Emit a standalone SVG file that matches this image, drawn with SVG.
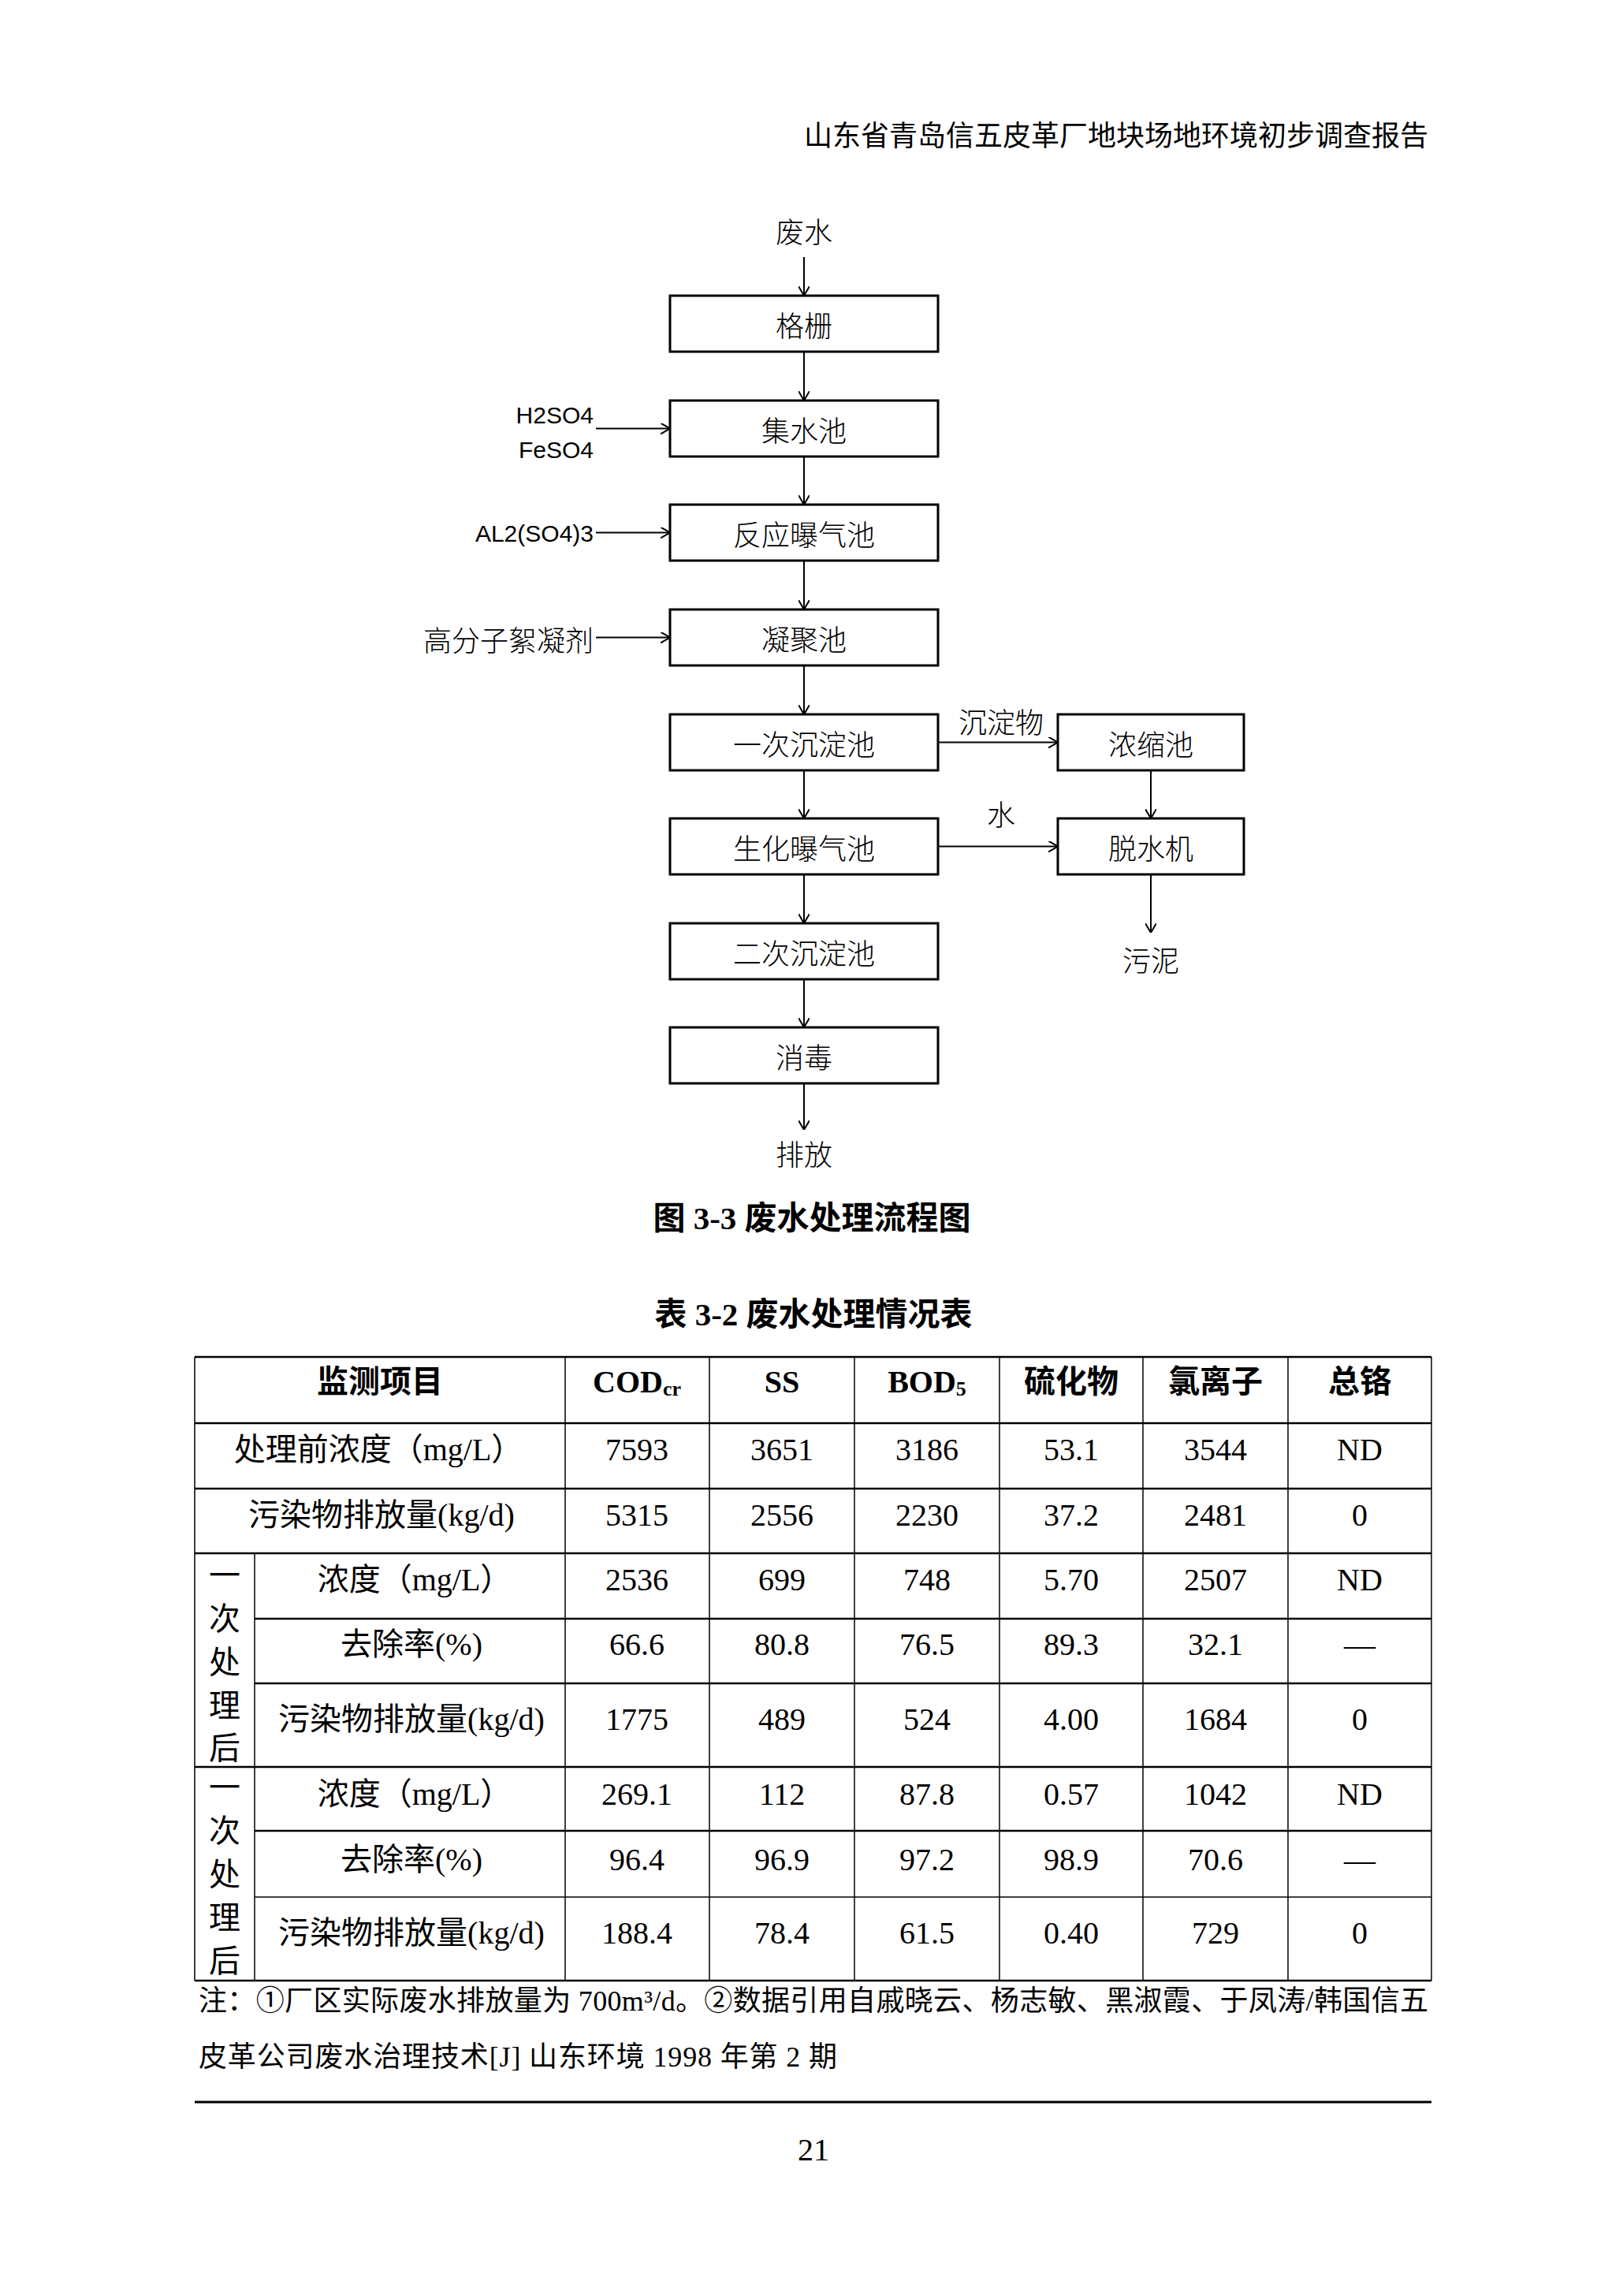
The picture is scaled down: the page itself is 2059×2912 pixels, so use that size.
<svg xmlns="http://www.w3.org/2000/svg" width="2059" height="2912" viewBox="0 0 2059 2912">
<defs>
<marker id="arr" viewBox="0 0 12 14" refX="12" refY="7" markerWidth="12" markerHeight="14" markerUnits="userSpaceOnUse" orient="auto">
<path d="M0,0 L12,7 L0,14" fill="none" stroke="#000" stroke-width="2"/>
</marker>
<style>
.box{fill:#fff;stroke:#000;stroke-width:3}
.con{stroke:#000;stroke-width:2;fill:none;marker-end:url(#arr)}
.fl{font-family:"Noto Sans CJK SC","Liberation Sans",sans-serif;font-size:36px;font-weight:300;text-anchor:middle;dominant-baseline:central;fill:#000}
.la{font-family:"Liberation Sans","Noto Sans CJK SC",sans-serif;font-size:30px;text-anchor:end;dominant-baseline:central;fill:#000}
.lc{font-family:"Noto Sans CJK SC",sans-serif;font-size:36px;font-weight:300;text-anchor:end;dominant-baseline:central;fill:#000}
.hd{font-family:"Liberation Serif","Noto Sans CJK SC",serif;font-size:36px;text-anchor:end;dominant-baseline:central;fill:#000}
.cap{font-family:"Liberation Serif","Noto Sans CJK SC",serif;font-size:41px;font-weight:bold;text-anchor:middle;dominant-baseline:central;fill:#000}
.t{font-family:"Liberation Serif","Noto Sans CJK SC",serif;font-size:40px;text-anchor:middle;dominant-baseline:central;fill:#000}
.th{font-family:"Liberation Serif","Noto Sans CJK SC",serif;font-size:40px;font-weight:bold;text-anchor:middle;dominant-baseline:central;fill:#000}
.nt{font-family:"Liberation Serif","Noto Sans CJK SC",serif;font-size:36px;dominant-baseline:central;fill:#000}
.tk{stroke:#000;stroke-width:2.5}
.tn{stroke:#000;stroke-width:1.5}
</style>
</defs>
<rect width="2059" height="2912" fill="#fff"/>

<text class="hd" x="1812" y="173">山东省青岛信五皮革厂地块场地环境初步调查报告</text>

<g id="connectors">
<line class="con" x1="1020" y1="326" x2="1020" y2="375"/>
<line class="con" x1="1020" y1="446" x2="1020" y2="508"/>
<line class="con" x1="1020" y1="579" x2="1020" y2="640"/>
<line class="con" x1="1020" y1="711" x2="1020" y2="773"/>
<line class="con" x1="1020" y1="844" x2="1020" y2="906"/>
<line class="con" x1="1020" y1="977" x2="1020" y2="1038"/>
<line class="con" x1="1020" y1="1109" x2="1020" y2="1171"/>
<line class="con" x1="1020" y1="1242" x2="1020" y2="1303"/>
<line class="con" x1="1020" y1="1374" x2="1020" y2="1433"/>
<line class="con" x1="756" y1="543.5" x2="850" y2="543.5"/>
<line class="con" x1="756" y1="675.5" x2="850" y2="675.5"/>
<line class="con" x1="756" y1="808.5" x2="850" y2="808.5"/>
<line class="con" x1="1190" y1="941.5" x2="1342" y2="941.5"/>
<line class="con" x1="1190" y1="1073.5" x2="1342" y2="1073.5"/>
<line class="con" x1="1460" y1="977" x2="1460" y2="1038"/>
<line class="con" x1="1460" y1="1109" x2="1460" y2="1183"/>
<text class="fl" x="1270" y="914">沉淀物</text>
<text class="fl" x="1270" y="1031">水</text>
</g>

<g id="n-feishui"><text class="fl" x="1020" y="292">废水</text></g>
<g id="n-gezha"><rect class="box" x="850" y="375" width="340" height="71"/><text class="fl" x="1020" y="410.5">格栅</text></g>
<g id="n-jishuichi"><rect class="box" x="850" y="508" width="340" height="71"/><text class="fl" x="1020" y="543.5">集水池</text></g>
<g id="n-fanying"><rect class="box" x="850" y="640" width="340" height="71"/><text class="fl" x="1020" y="675.5">反应曝气池</text></g>
<g id="n-ningju"><rect class="box" x="850" y="773" width="340" height="71"/><text class="fl" x="1020" y="808.5">凝聚池</text></g>
<g id="n-yici"><rect class="box" x="850" y="906" width="340" height="71"/><text class="fl" x="1020" y="941.5">一次沉淀池</text></g>
<g id="n-shenghua"><rect class="box" x="850" y="1038" width="340" height="71"/><text class="fl" x="1020" y="1073.5">生化曝气池</text></g>
<g id="n-erci"><rect class="box" x="850" y="1171" width="340" height="71"/><text class="fl" x="1020" y="1206.5">二次沉淀池</text></g>
<g id="n-xiaodu"><rect class="box" x="850" y="1303" width="340" height="71"/><text class="fl" x="1020" y="1338.5">消毒</text></g>
<g id="n-paifang"><text class="fl" x="1020" y="1462">排放</text></g>
<g id="n-nongsuo"><rect class="box" x="1342" y="906" width="236" height="71"/><text class="fl" x="1460" y="941.5">浓缩池</text></g>
<g id="n-tuoshui"><rect class="box" x="1342" y="1038" width="236" height="71"/><text class="fl" x="1460" y="1073.5">脱水机</text></g>
<g id="n-wuni"><text class="fl" x="1460" y="1216">污泥</text></g>
<g id="n-h2so4"><text class="la" x="753" y="526">H2SO4</text><text class="la" x="753" y="570">FeSO4</text></g>
<g id="n-al"><text class="la" x="753" y="676">AL2(SO4)3</text></g>
<g id="n-gfz"><text class="lc" x="753" y="810">高分子絮凝剂</text></g>

<text class="cap" x="1030" y="1545">图 3-3  废水处理流程图</text>
<text class="cap" x="1032" y="1667">表 3-2  废水处理情况表</text>

<g id="table-lines">
<line class="tk" x1="247" y1="1721" x2="1816" y2="1721"/>
<line class="tk" x1="247" y1="1805" x2="1816" y2="1805"/>
<line class="tk" x1="247" y1="1888" x2="1816" y2="1888"/>
<line class="tk" x1="247" y1="1970" x2="1816" y2="1970"/>
<line class="tk" x1="323" y1="2053" x2="1816" y2="2053"/>
<line class="tk" x1="323" y1="2135" x2="1816" y2="2135"/>
<line class="tk" x1="247" y1="2241" x2="1816" y2="2241"/>
<line class="tk" x1="323" y1="2322" x2="1816" y2="2322"/>
<line class="tn" x1="323" y1="2406" x2="1816" y2="2406"/>
<line class="tk" x1="247" y1="2512" x2="1816" y2="2512"/>
<line class="tn" x1="247" y1="1721" x2="247" y2="2512"/>
<line class="tn" x1="323" y1="1970" x2="323" y2="2512"/>
<line class="tn" x1="717" y1="1721" x2="717" y2="2512"/>
<line class="tn" x1="900" y1="1721" x2="900" y2="2512"/>
<line class="tn" x1="1084" y1="1721" x2="1084" y2="2512"/>
<line class="tn" x1="1268" y1="1721" x2="1268" y2="2512"/>
<line class="tn" x1="1450" y1="1721" x2="1450" y2="2512"/>
<line class="tn" x1="1634" y1="1721" x2="1634" y2="2512"/>
<line class="tn" x1="1816" y1="1721" x2="1816" y2="2512"/>
</g>

<g id="table-text">
<text class="th" x="482" y="1752">监测项目</text>
<text class="th" x="808" y="1752">COD<tspan font-size="26" dy="9">cr</tspan></text>
<text class="th" x="992" y="1752">SS</text>
<text class="th" x="1176" y="1752">BOD<tspan font-size="26" dy="9">5</tspan></text>
<text class="th" x="1359" y="1752">硫化物</text>
<text class="th" x="1542" y="1752">氯离子</text>
<text class="th" x="1725" y="1752">总铬</text>

<text class="t" x="480" y="1838">处理前浓度（mg/L）</text>
<text class="t" x="808" y="1838">7593</text><text class="t" x="992" y="1838">3651</text><text class="t" x="1176" y="1838">3186</text><text class="t" x="1359" y="1838">53.1</text><text class="t" x="1542" y="1838">3544</text><text class="t" x="1725" y="1838">ND</text>

<text class="t" x="484" y="1921">污染物排放量(kg/d)</text>
<text class="t" x="808" y="1921">5315</text><text class="t" x="992" y="1921">2556</text><text class="t" x="1176" y="1921">2230</text><text class="t" x="1359" y="1921">37.2</text><text class="t" x="1542" y="1921">2481</text><text class="t" x="1725" y="1921">0</text>

<text class="t" x="285" y="1998">一</text><text class="t" x="285" y="2053">次</text><text class="t" x="285" y="2108">处</text><text class="t" x="285" y="2163">理</text><text class="t" x="285" y="2217">后</text>

<text class="t" x="526" y="2003">浓度（mg/L）</text>
<text class="t" x="808" y="2003">2536</text><text class="t" x="992" y="2003">699</text><text class="t" x="1176" y="2003">748</text><text class="t" x="1359" y="2003">5.70</text><text class="t" x="1542" y="2003">2507</text><text class="t" x="1725" y="2003">ND</text>

<text class="t" x="522" y="2085">去除率(%)</text>
<text class="t" x="808" y="2085">66.6</text><text class="t" x="992" y="2085">80.8</text><text class="t" x="1176" y="2085">76.5</text><text class="t" x="1359" y="2085">89.3</text><text class="t" x="1542" y="2085">32.1</text><text class="t" x="1725" y="2085">—</text>

<text class="t" x="522" y="2180">污染物排放量(kg/d)</text>
<text class="t" x="808" y="2180">1775</text><text class="t" x="992" y="2180">489</text><text class="t" x="1176" y="2180">524</text><text class="t" x="1359" y="2180">4.00</text><text class="t" x="1542" y="2180">1684</text><text class="t" x="1725" y="2180">0</text>

<text class="t" x="285" y="2267">一</text><text class="t" x="285" y="2322">次</text><text class="t" x="285" y="2377">处</text><text class="t" x="285" y="2432">理</text><text class="t" x="285" y="2487">后</text>

<text class="t" x="526" y="2275">浓度（mg/L）</text>
<text class="t" x="808" y="2275">269.1</text><text class="t" x="992" y="2275">112</text><text class="t" x="1176" y="2275">87.8</text><text class="t" x="1359" y="2275">0.57</text><text class="t" x="1542" y="2275">1042</text><text class="t" x="1725" y="2275">ND</text>

<text class="t" x="522" y="2358">去除率(%)</text>
<text class="t" x="808" y="2358">96.4</text><text class="t" x="992" y="2358">96.9</text><text class="t" x="1176" y="2358">97.2</text><text class="t" x="1359" y="2358">98.9</text><text class="t" x="1542" y="2358">70.6</text><text class="t" x="1725" y="2358">—</text>

<text class="t" x="522" y="2451">污染物排放量(kg/d)</text>
<text class="t" x="808" y="2451">188.4</text><text class="t" x="992" y="2451">78.4</text><text class="t" x="1176" y="2451">61.5</text><text class="t" x="1359" y="2451">0.40</text><text class="t" x="1542" y="2451">729</text><text class="t" x="1725" y="2451">0</text>
</g>

<text class="nt" x="252" y="2538" textLength="1560" lengthAdjust="spacing">注：①厂区实际废水排放量为 700m³/d。②数据引用自戚晓云、杨志敏、黑淑霞、于凤涛/韩国信五</text>
<text class="nt" x="252" y="2609" textLength="810" lengthAdjust="spacing">皮革公司废水治理技术[J]  山东环境  1998 年第 2 期</text>

<line x1="247" y1="2666" x2="1816" y2="2666" stroke="#000" stroke-width="3"/>
<text class="t" x="1032" y="2726" font-size="30">21</text>
</svg>
